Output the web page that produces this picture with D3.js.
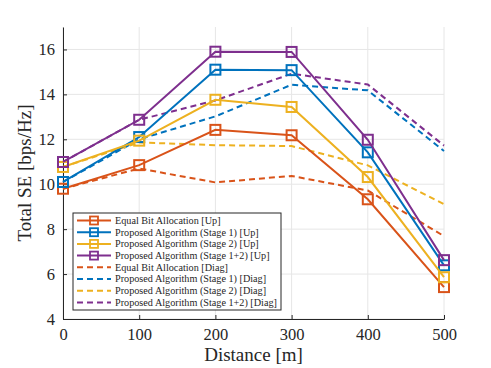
<!DOCTYPE html>
<html>
<head>
<meta charset="utf-8">
<script src="https://cdn.jsdelivr.net/npm/d3@7"></script>
<style>
  body { margin: 0; background: #fff; }
  text { font-family: "Liberation Serif", "DejaVu Serif", serif; }
</style>
</head>
<body>
<div id="chart"></div>
<script>
// data
var distances = [0, 100, 200, 300, 400, 500];
var equalUp   = [9.8, 10.85, 12.42, 12.18, 9.33, 5.42];
var stage1Up  = [10.1, 12.1, 15.1, 15.08, 11.42, 6.39];
var stage2Up  = [10.77, 11.94, 13.76, 13.44, 10.32, 5.86];
var stage12Up = [10.99, 12.87, 15.9, 15.89, 11.98, 6.62];
var equalDiag   = [9.8, 10.7, 10.08, 10.37, 9.72, 7.69];
var stage1Diag  = [10.1, 12.0, 13.02, 14.43, 14.18, 11.48];
var stage2Diag  = [10.77, 11.86, 11.74, 11.7, 10.84, 9.11];
var stage12Diag = [10.99, 12.87, 13.73, 14.92, 14.44, 11.72];
var xTicks = [0, 100, 200, 300, 400, 500];
var yTicks = [4, 6, 8, 10, 12, 14, 16];

var series = [
  {name: "Equal Bit Allocation [Up]", values: equalUp, color: "#D95319", dashed: false},
  {name: "Proposed Algorithm (Stage 1) [Up]", values: stage1Up, color: "#0072BD", dashed: false},
  {name: "Proposed Algorithm (Stage 2) [Up]", values: stage2Up, color: "#EDB120", dashed: false},
  {name: "Proposed Algorithm (Stage 1+2) [Up]", values: stage12Up, color: "#7E2F8E", dashed: false},
  {name: "Equal Bit Allocation [Diag]", values: equalDiag, color: "#D95319", dashed: true},
  {name: "Proposed Algorithm (Stage 1) [Diag]", values: stage1Diag, color: "#0072BD", dashed: true},
  {name: "Proposed Algorithm (Stage 2) [Diag]", values: stage2Diag, color: "#EDB120", dashed: true},
  {name: "Proposed Algorithm (Stage 1+2) [Diag]", values: stage12Diag, color: "#7E2F8E", dashed: true}
];

var W = 491, H = 368;
var margin = {top: 27, right: 47, bottom: 49, left: 63},
    width = W - margin.left - margin.right,
    height = H - margin.top - margin.bottom;

var svg = d3.select("#chart").append("svg")
    .attr("width", W)
    .attr("height", H);
var g = svg.append("g")
    .attr("transform", "translate(" + margin.left + "," + margin.top + ")");

var x = d3.scaleLinear().domain([0, 500]).range([0, width]);
var y = d3.scaleLinear().domain([4, 17]).range([height, 0]);

// grid
g.selectAll(".gx").data(xTicks).enter().append("line")
    .attr("x1", function(d) { return x(d); }).attr("x2", function(d) { return x(d); })
    .attr("y1", 0).attr("y2", height)
    .attr("stroke", "#e6e6e6").attr("stroke-width", 1);
g.selectAll(".gy").data(yTicks).enter().append("line")
    .attr("x1", 0).attr("x2", width)
    .attr("y1", function(d) { return y(d); }).attr("y2", function(d) { return y(d); })
    .attr("stroke", "#e6e6e6").attr("stroke-width", 1);

// axes
var xAxis = g.append("g")
    .attr("transform", "translate(0," + height + ")")
    .call(d3.axisBottom(x).tickValues(xTicks).tickSizeInner(-4).tickSizeOuter(0).tickPadding(9));
var yAxis = g.append("g")
    .call(d3.axisLeft(y).tickValues(yTicks).tickSizeInner(-4).tickSizeOuter(0).tickPadding(8));
[xAxis, yAxis].forEach(function(a) {
  a.select(".domain").attr("stroke", "#262626").attr("stroke-width", 1);
  a.selectAll(".tick line").attr("stroke", "#262626");
  a.selectAll("text").attr("font-size", 16.5).attr("fill", "#262626")
    .attr("font-family", "'Liberation Serif', serif");
});

var line = d3.line()
    .x(function(d, i) { return x(distances[i]); })
    .y(function(d) { return y(d); });

// dashed lines drawn first, then solid with markers
series.filter(function(s) { return s.dashed; }).forEach(function(s) {
  g.append("path").datum(s.values)
      .attr("fill", "none").attr("stroke", s.color).attr("stroke-width", 2)
      .attr("stroke-dasharray", "6,4")
      .attr("d", line);
});
series.filter(function(s) { return !s.dashed; }).forEach(function(s) {
  g.append("path").datum(s.values)
      .attr("fill", "none").attr("stroke", s.color).attr("stroke-width", 2)
      .attr("d", line);
  g.selectAll(null).data(s.values).enter().append("rect")
      .attr("x", function(d, i) { return x(distances[i]) - 5; })
      .attr("y", function(d) { return y(d) - 5; })
      .attr("width", 10).attr("height", 10)
      .attr("fill", "none").attr("stroke", s.color).attr("stroke-width", 2);
});

// legend
var lg = svg.append("g").attr("transform", "translate(73,213)");
lg.append("rect").attr("width", 208).attr("height", 97)
    .attr("fill", "#fff").attr("stroke", "#262626").attr("stroke-width", 1);
series.forEach(function(s, i) {
  var yy = 7.5 + i * 11.7;
  lg.append("line").attr("x1", 4).attr("x2", 38).attr("y1", yy).attr("y2", yy)
      .attr("stroke", s.color).attr("stroke-width", 2)
      .attr("stroke-dasharray", s.dashed ? "6,4" : null);
  if (!s.dashed) {
    lg.append("rect").attr("x", 17).attr("y", yy - 4).attr("width", 8).attr("height", 8)
        .attr("fill", "none").attr("stroke", s.color).attr("stroke-width", 1.8);
  }
  lg.append("text").attr("x", 42).attr("y", yy + 3.4)
      .attr("font-size", 10.2).attr("fill", "#262626").text(s.name);
});

// axis titles
svg.append("text")
    .attr("x", margin.left + width / 2).attr("y", 361)
    .attr("text-anchor", "middle").attr("font-size", 19).attr("fill", "#262626")
    .text("Distance [m]");
svg.append("text")
    .attr("transform", "translate(31," + (margin.top + height / 2) + ")rotate(-90)")
    .attr("text-anchor", "middle").attr("font-size", 19).attr("fill", "#262626")
    .text("Total SE [bps/Hz]");
</script>
</body>
</html>
